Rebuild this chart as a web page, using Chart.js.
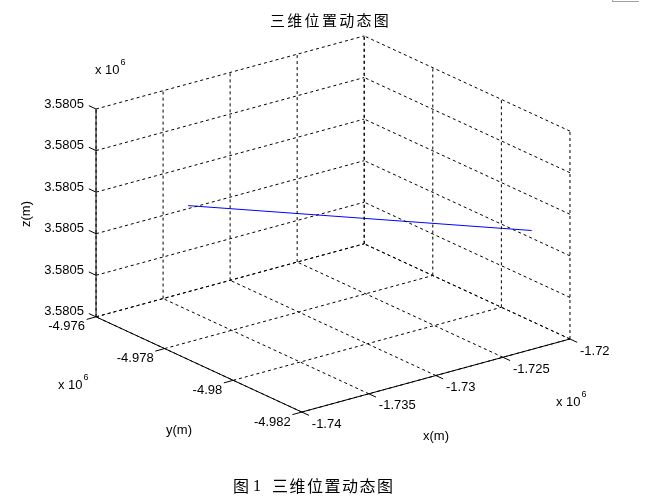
<!DOCTYPE html>
<html>
<head>
<meta charset="utf-8">
<script src="https://cdn.jsdelivr.net/npm/chart.js@4/dist/chart.umd.min.js"></script>
<style>
  html, body { margin: 0; padding: 0; background: #fff; }
  #wrap { position: relative; width: 652px; height: 504px; }
  #corner { position: absolute; left: 612px; top: -1px; width: 26px; height: 2px;
            border-left: 1px solid #a0a0a0; border-bottom: 1px solid #a0a0a0; }
</style>
</head>
<body>
<div id="wrap">
  <canvas id="chart" width="652" height="504"></canvas>
  <div id="corner"></div>
</div>
<script>
// axis ticks, in units of 10^6 m
const xTicks = [-1.74, -1.735, -1.73, -1.725, -1.72];
const yTicks = [-4.982, -4.98, -4.978, -4.976];
const zTicks = [3.580500, 3.580502, 3.580504, 3.580506, 3.580508, 3.580510];

// trajectory (10^6 m)
const trackX = [-1.7362, -1.7226];
const trackY = [-4.9772, -4.9819];
const trackZ = [3.5805056, 3.5805056];

const titleText = '三维位置动态图';
const captionText = '三维位置动态图';

// view setup (MATLAB default view az -37.5, el 30, stretched to fill)
const AZ = 37.5 * Math.PI / 180;
const EL = 30 * Math.PI / 180;
const SX = 338, SY = 240, CX = 333, CY = 224;

const xMin = xTicks[0], xMax = xTicks[xTicks.length - 1];
const yMin = yTicks[0], yMax = yTicks[yTicks.length - 1];
const zMin = zTicks[0], zMax = zTicks[zTicks.length - 1];

function project(x, y, z) {
    const nx = (x - xMin) / (xMax - xMin) - 0.5;
    const ny = (y - yMin) / (yMax - yMin) - 0.5;
    const nz = (z - zMin) / (zMax - zMin) - 0.5;
    const px = CX + SX * (nx * Math.cos(AZ) - ny * Math.sin(AZ));
    const py = CY - SY * ((nx * Math.sin(AZ) + ny * Math.cos(AZ)) * Math.sin(EL) + nz * Math.cos(EL));
    return { x: px, y: py };
}

const datasets = [];
function seg(a, b, dashed, color) {
    datasets.push({
        data: [project(...a), project(...b)],
        showLine: true,
        borderColor: color || '#000',
        borderWidth: 1,
        borderDash: dashed ? [3, 3] : [],
        pointRadius: 0,
        tension: 0
    });
}

// back plane y = yMax
xTicks.forEach(x => seg([x, yMax, zMin], [x, yMax, zMax], true));
zTicks.forEach(z => seg([xMin, yMax, z], [xMax, yMax, z], true));
// right plane x = xMax
yTicks.forEach(y => seg([xMax, y, zMin], [xMax, y, zMax], true));
zTicks.forEach(z => seg([xMax, yMin, z], [xMax, yMax, z], true));
// floor z = zMin
xTicks.forEach(x => seg([x, yMin, zMin], [x, yMax, zMin], true));
yTicks.forEach(y => seg([xMin, y, zMin], [xMax, y, zMin], true));

// axis lines
seg([xMin, yMax, zMin], [xMin, yMax, zMax], false);
seg([xMin, yMin, zMin], [xMin, yMax, zMin], false);
seg([xMin, yMin, zMin], [xMax, yMin, zMin], false);

// tick marks, pointing out of the box
const tl = 0.035;
const dy = (yMax - yMin) * tl, dx = (xMax - xMin) * tl;
zTicks.forEach(z => seg([xMin, yMax, z], [xMin, yMax + dy, z], false));
yTicks.forEach(y => seg([xMin, y, zMin], [xMin - dx, y, zMin], false));
xTicks.forEach(x => seg([x, yMin, zMin], [x, yMin - dy, zMin], false));

// trajectory
datasets.push({
    data: trackX.map((x, i) => project(x, trackY[i], trackZ[i])),
    showLine: true,
    borderColor: '#0000ff',
    borderWidth: 1,
    pointRadius: 0,
    tension: 0
});

const textPlugin = {
    id: 'texts',
    afterDraw(chart) {
        const ctx = chart.ctx;
        const sx = chart.scales.x, sy = chart.scales.y;
        const P = (x, y, z) => {
            const p = project(x, y, z);
            return { x: sx.getPixelForValue(p.x), y: sy.getPixelForValue(p.y) };
        };
        ctx.save();
        ctx.fillStyle = '#000';
        ctx.textBaseline = 'middle';
        ctx.font = '13px "Liberation Sans", Arial, sans-serif';

        ctx.textAlign = 'right';
        zTicks.forEach(z => {
            const p = P(xMin, yMax, z);
            ctx.fillText(z.toFixed(4), p.x - 12, p.y - 5);
        });
        yTicks.forEach(y => {
            const p = P(xMin, y, zMin);
            ctx.fillText(String(y), p.x - 11, p.y + 10);
        });
        ctx.textAlign = 'left';
        xTicks.forEach(x => {
            const p = P(x, yMin, zMin);
            ctx.fillText(String(x), p.x + 10, p.y + 12);
        });

        // exponent labels
        const expo = (x, y) => {
            ctx.font = '13px "Liberation Sans", Arial, sans-serif';
            ctx.textAlign = 'left';
            ctx.fillText('x 10', x, y);
            const w = ctx.measureText('x 10').width;
            ctx.font = '9px "Liberation Sans", Arial, sans-serif';
            ctx.fillText('6', x + w + 1, y - 7);
        };
        expo(95, 70);
        expo(58, 385);
        expo(556, 402);

        // axis titles
        ctx.font = '13px "Liberation Sans", Arial, sans-serif';
        ctx.textAlign = 'center';
        ctx.fillText('y(m)', 179, 430);
        ctx.fillText('x(m)', 436, 436);
        ctx.save();
        ctx.translate(26, 214);
        ctx.rotate(-Math.PI / 2);
        ctx.fillText('z(m)', 0, 0);
        ctx.restore();

        // title
        ctx.font = '15px "Noto Sans CJK SC", sans-serif';
        ctx.letterSpacing = '2.3px';
        ctx.textAlign = 'left';
        ctx.fillText(titleText, 270, 20);

        // caption
        ctx.font = '16px "Noto Sans CJK SC", sans-serif';
        ctx.letterSpacing = '1.5px';
        ctx.fillText('图', 233, 486);
        ctx.font = '16px "Liberation Serif", serif';
        ctx.letterSpacing = '0px';
        ctx.fillText('1', 253, 487);
        ctx.font = '16px "Noto Sans CJK SC", sans-serif';
        ctx.letterSpacing = '1.5px';
        ctx.fillText(captionText, 272, 486);
        ctx.restore();
    }
};

new Chart(document.getElementById('chart').getContext('2d'), {
    type: 'scatter',
    data: { datasets },
    options: {
        responsive: false,
        animation: false,
        layout: { padding: 0 },
        plugins: { legend: { display: false }, tooltip: { enabled: false }, title: { display: false } },
        scales: {
            x: { type: 'linear', min: 0, max: 652, display: false },
            y: { type: 'linear', min: 0, max: 504, reverse: true, display: false }
        }
    },
    plugins: [textPlugin]
});
</script>
</body>
</html>
